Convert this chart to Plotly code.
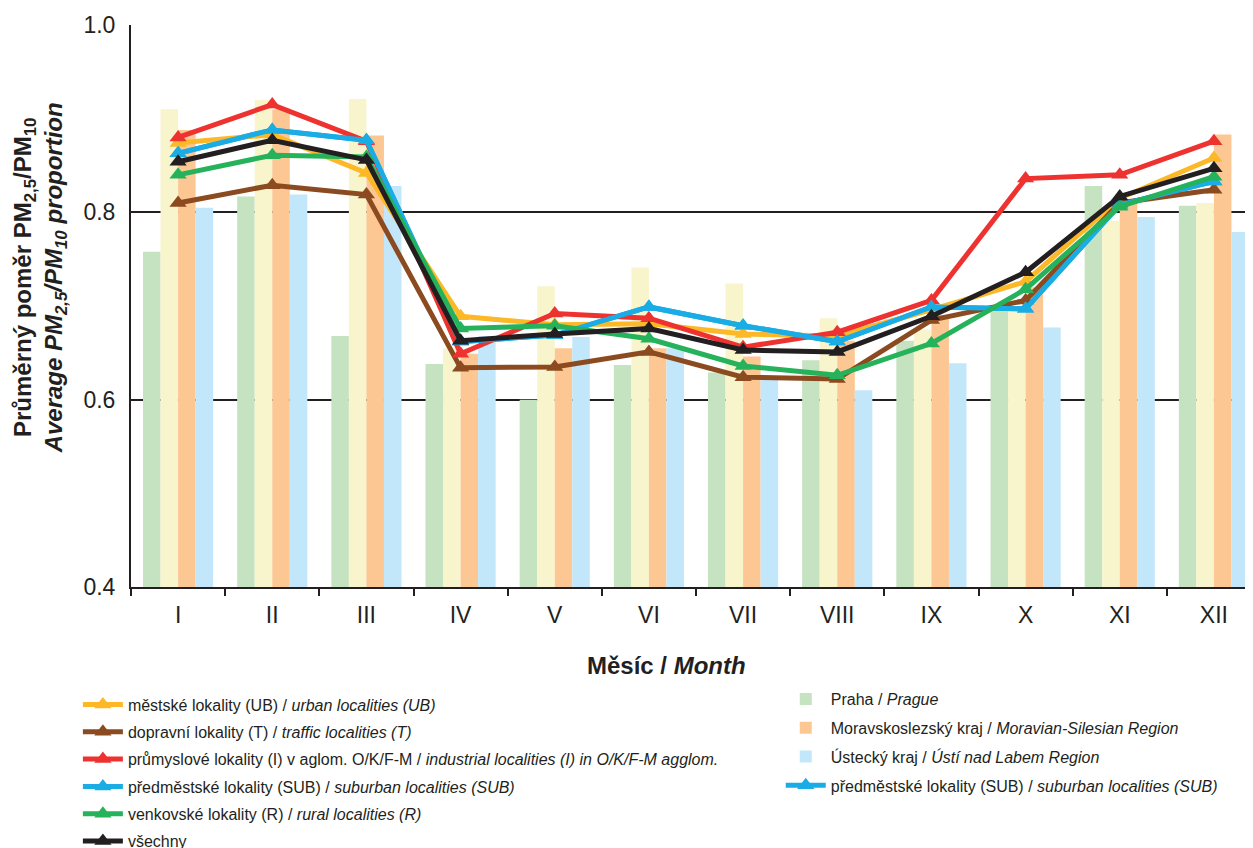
import plotly.graph_objects as go

months = ["I", "II", "III", "IV", "V", "VI", "VII", "VIII", "IX", "X", "XI", "XII"]

# Bars (regions)
praha = [0.758, 0.817, 0.668, 0.638, 0.600, 0.637, 0.629, 0.642, 0.663, 0.699, 0.828, 0.807]
yellow_bars = [0.910, 0.920, 0.921, 0.655, 0.721, 0.741, 0.724, 0.687, 0.675, 0.699, 0.791, 0.810]
msk = [0.888, 0.910, 0.882, 0.649, 0.655, 0.655, 0.646, 0.663, 0.690, 0.720, 0.810, 0.883]
usti = [0.805, 0.819, 0.828, 0.668, 0.667, 0.655, 0.622, 0.610, 0.639, 0.677, 0.795, 0.779]

# Lines (locality types)
ub = [0.874, 0.883, 0.842, 0.689, 0.680, 0.681, 0.670, 0.668, 0.696, 0.726, 0.815, 0.858]
traffic = [0.810, 0.829, 0.819, 0.634, 0.635, 0.651, 0.624, 0.622, 0.685, 0.706, 0.810, 0.824]
industrial = [0.880, 0.915, 0.876, 0.649, 0.692, 0.687, 0.656, 0.672, 0.706, 0.836, 0.840, 0.876]
suburban = [0.863, 0.888, 0.877, 0.662, 0.669, 0.699, 0.679, 0.662, 0.699, 0.697, 0.808, 0.833]
rural = [0.840, 0.861, 0.859, 0.676, 0.679, 0.665, 0.636, 0.626, 0.660, 0.718, 0.806, 0.838]
all_sites = [0.854, 0.877, 0.856, 0.663, 0.670, 0.676, 0.653, 0.651, 0.689, 0.736, 0.817, 0.847]

x = list(range(len(months)))

fig = go.Figure()

bar_specs = [
    (praha, "Praha / <i>Prague</i>", "#C5E2C1", True),
    (yellow_bars, "yellow", "#F8F5CC", False),
    (msk, "Moravskoslezský kraj / <i>Moravian-Silesian Region</i>", "#FDC794", True),
    (usti, "Ústecký kraj / <i>Ústí nad Labem Region</i>", "#C2E7FA", True),
]
for vals, name, col, show in bar_specs:
    fig.add_trace(go.Bar(
        x=x, y=[v - 0.4 for v in vals], base=0.4, name=name,
        marker=dict(color=col, line=dict(width=0)),
        showlegend=show, legend="legend2", legendgroup=name,
    ))

SUB_NAME = "předměstské lokality (SUB) / <i>suburban localities (SUB)</i>"
SUB_COL = "#1AACE4"

# duplicate suburban entry shown in the right-hand legend (drawn beneath the real lines)
fig.add_trace(go.Scatter(
    x=x, y=suburban, name=SUB_NAME,
    mode="lines+markers", line=dict(color=SUB_COL, width=5),
    marker=dict(symbol="triangle-up", size=15, color=SUB_COL),
    legend="legend2", legendgroup="sub2",
))

line_specs = [
    (ub, "městské lokality (UB) / <i>urban localities (UB)</i>", "#FDB827"),
    (traffic, "dopravní lokality (T) / <i>traffic localities (T)</i>", "#8B4A1F"),
    (industrial, "průmyslové lokality (I) v aglom. O/K/F-M / <i>industrial localities (I) in O/K/F-M agglom.</i>", "#EE3230"),
    (suburban, SUB_NAME, SUB_COL),
    (rural, "venkovské lokality (R) / <i>rural localities (R)</i>", "#25B25B"),
    (all_sites, "všechny", "#231F20"),
]
for vals, name, col in line_specs:
    fig.add_trace(go.Scatter(
        x=x, y=vals, name=name, mode="lines+markers",
        line=dict(color=col, width=5),
        marker=dict(symbol="triangle-up", size=15, color=col),
        legend="legend", legendgroup=name,
    ))

font = "Liberation Sans, Arial, sans-serif"

fig.update_layout(
    width=1253, height=848,
    margin=dict(l=123, r=0, t=17, b=269, autoexpand=False),
    paper_bgcolor="white", plot_bgcolor="white",
    font=dict(family=font, color="#231F20"),
    barmode="group", bargap=0.255, bargroupgap=0,
    xaxis=dict(
        range=[-0.5, 11.5], tickvals=x, ticktext=months,
        ticks="outside", ticklen=6, tickcolor="rgba(0,0,0,0)",
        tickfont=dict(size=23, color="#231F20"),
        showline=True, linecolor="#231F20", linewidth=2,
        showgrid=False, zeroline=False,
        minor=dict(tick0=-0.5, dtick=1, ticks="outside", ticklen=7,
                   tickwidth=2, tickcolor="#231F20", showgrid=False),
    ),
    yaxis=dict(
        range=[0.4, 1.0], tickvals=[0.4, 0.6, 0.8, 1.0],
        ticktext=["0.4", "0.6", "0.8", "1.0"],
        tickfont=dict(size=23, color="#231F20"),
        ticks="outside", ticklen=9, tickcolor="rgba(0,0,0,0)",
        showline=True, linecolor="#231F20", linewidth=2,
        showgrid=True, gridcolor="#231F20", gridwidth=2,
        zeroline=False,
    ),
    legend=dict(
        x=-0.047, y=-0.179, xanchor="left", yanchor="top",
        font=dict(size=16, family=font, color="#231F20"),
        traceorder="grouped", tracegroupgap=3.5, itemwidth=40,
        bgcolor="rgba(0,0,0,0)",
    ),
    legend2=dict(
        x=0.575, y=-0.169, xanchor="left", yanchor="top",
        font=dict(size=16, family=font, color="#231F20"),
        traceorder="grouped", tracegroupgap=5, itemwidth=40,
        bgcolor="rgba(0,0,0,0)",
    ),
    showlegend=True,
)

fig.add_annotation(
    text="<b>Průměrný poměr PM<sub>2,5</sub>/PM<sub>10</sub></b><br><b><i>Average PM<sub>2,5</sub>/PM<sub>10</sub> proportion</i></b>",
    xref="paper", yref="paper", x=-0.081, y=0.55,
    textangle=-90, showarrow=False, font=dict(size=24, family=font, color="#231F20"),
    xanchor="center", yanchor="middle",
)
fig.add_annotation(
    text="<b>Měsíc / <i>Month</i></b>",
    xref="paper", yref="paper", x=0.4735, y=-0.139,
    showarrow=False, font=dict(size=24, family=font, color="#231F20"),
    xanchor="center", yanchor="middle",
)

fig.write_html("out.html")
